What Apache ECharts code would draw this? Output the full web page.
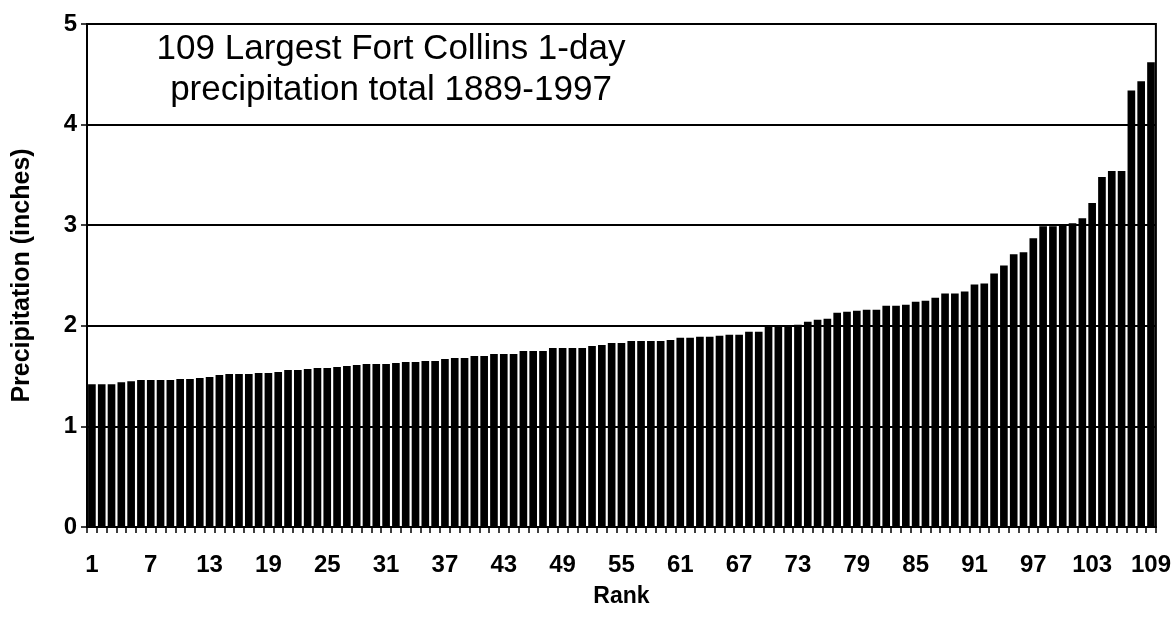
<!DOCTYPE html>
<html>
<head>
<meta charset="utf-8">
<script src="https://cdn.jsdelivr.net/npm/echarts@6/dist/echarts.min.js"></script>
<style>
  html, body { margin: 0; padding: 0; background: #fff; }
  #chart { width: 1174px; height: 621px; }
</style>
</head>
<body>
<div id="chart"></div>
<script>
// rank 1..109
const ranks = [];
for (let i = 1; i <= 109; i++) ranks.push(String(i));

// 1-day precipitation totals (inches), sorted ascending
const precip = [
  1.42, 1.42, 1.42, 1.44, 1.45, 1.46, 1.46, 1.46, 1.46, 1.47,
  1.47, 1.48, 1.49, 1.51, 1.52, 1.52, 1.52, 1.53, 1.53, 1.54,
  1.56, 1.56, 1.57, 1.58, 1.58, 1.59, 1.60, 1.61, 1.62, 1.62,
  1.62, 1.63, 1.64, 1.64, 1.65, 1.65, 1.67, 1.68, 1.68, 1.70,
  1.70, 1.72, 1.72, 1.72, 1.75, 1.75, 1.75, 1.78, 1.78, 1.78,
  1.78, 1.80, 1.81, 1.83, 1.83, 1.85, 1.85, 1.85, 1.85, 1.86,
  1.88, 1.88, 1.89, 1.89, 1.90, 1.91, 1.91, 1.94, 1.94, 1.99,
  1.99, 2.00, 2.01, 2.04, 2.06, 2.07, 2.13, 2.14, 2.15, 2.16,
  2.16, 2.20, 2.20, 2.21, 2.24, 2.25, 2.28, 2.32, 2.32, 2.34,
  2.41, 2.42, 2.52, 2.60, 2.71, 2.73, 2.87, 2.99, 2.99, 3.01,
  3.02, 3.07, 3.22, 3.48, 3.54, 3.54, 4.34, 4.43, 4.62
];

const titleLines = ['109 Largest Fort Collins 1-day', 'precipitation total 1889-1997'];

const FONT = 'Arial, "Liberation Sans", sans-serif';

const chart = echarts.init(document.getElementById('chart'));

const option = {
  animation: false,
  backgroundColor: '#fff',
  title: {
    text: titleLines.join('\n'),
    left: 386,
    top: 24,
    textAlign: 'center',
    textStyle: {
      fontFamily: FONT,
      fontSize: 35,
      fontWeight: 'normal',
      color: '#000',
      lineHeight: 41
    }
  },
  grid: {
    left: 87,
    right: 16,
    top: 24,
    bottom: 94,
    show: true,
    borderColor: '#000',
    borderWidth: 2
  },
  xAxis: {
    type: 'category',
    data: ranks,
    name: 'Rank',
    nameLocation: 'middle',
    nameGap: 58,
    nameTextStyle: { fontFamily: FONT, fontSize: 23, fontWeight: 'bold', color: '#000' },
    axisLine: { lineStyle: { color: '#000', width: 2 } },
    axisTick: { show: true, interval: 0, length: 6, lineStyle: { color: '#000', width: 1.5 } },
    axisLabel: {
      interval: 5,
      margin: 26,
      fontFamily: FONT,
      fontSize: 24,
      fontWeight: 'bold',
      color: '#000'
    }
  },
  yAxis: {
    type: 'value',
    min: 0,
    max: 5,
    interval: 1,
    name: 'Precipitation (inches)',
    nameLocation: 'middle',
    nameGap: 52,
    nameTextStyle: { fontFamily: FONT, fontSize: 25, fontWeight: 'bold', color: '#000' },
    axisLine: { show: true, lineStyle: { color: '#000', width: 2 } },
    axisTick: { show: true, length: 6, lineStyle: { color: '#000', width: 1.5 } },
    axisLabel: {
      margin: 10,
      fontFamily: FONT,
      fontSize: 24,
      fontWeight: 'bold',
      color: '#000'
    },
    splitLine: { show: true, lineStyle: { color: '#000', width: 2 } }
  },
  series: [{
    type: 'bar',
    data: precip,
    barCategoryGap: '22%',
    itemStyle: { color: '#000' }
  }]
};

chart.setOption(option);
</script>
</body>
</html>
